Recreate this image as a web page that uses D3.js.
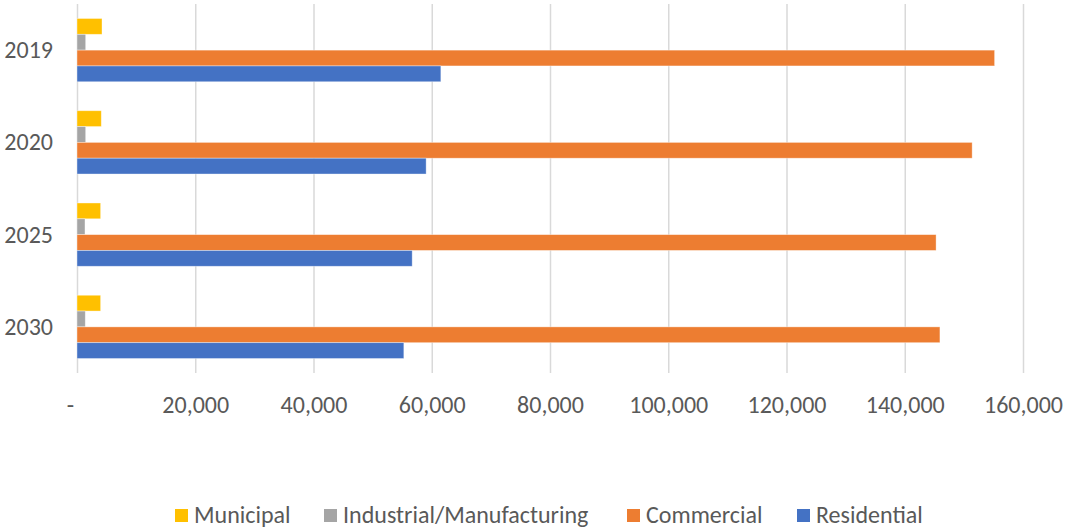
<!DOCTYPE html>
<html>
<head>
<meta charset="utf-8">
<script src="https://cdn.jsdelivr.net/npm/d3@7"></script>
<style>
  body { margin: 0; background: #fff; }
  text { font-family: Calibri, Carlito, 'Liberation Sans', Arial, sans-serif; fill: #595959; }
</style>
</head>
<body>
<svg id="chart" width="1065" height="529"></svg>
<script>
// data
const years = ['2019', '2020', '2025', '2030']
const seriesNames = ['Municipal', 'Industrial/Manufacturing', 'Commercial', 'Residential']
const municipal = [4230, 4110, 4000, 4000]
const industrial = [1470, 1470, 1350, 1400]
const commercial = [155200, 151400, 145300, 145950]
const residential = [61540, 59050, 56690, 55280]
const xTicks = [0, 20000, 40000, 60000, 80000, 100000, 120000, 140000, 160000]
const colors = ['#FFC000', '#A5A5A5', '#ED7D31', '#4472C4']

const values = [municipal, industrial, commercial, residential]
const rows = years.map((year, i) => {
  const row = { year: year }
  seriesNames.forEach((s, j) => { row[s] = values[j][i] })
  return row
})

const svg = d3.select('#chart')
const plotTop = 4
const plotBottom = 373

const x = d3.scaleLinear().domain([0, 160000]).range([77, 1023])
const y = d3.scaleBand().domain(years).range([plotTop, plotBottom]).paddingInner(0.314).paddingOuter(0.157)
const ySub = d3.scaleBand().domain(seriesNames).range([0, y.bandwidth()])
const color = d3.scaleOrdinal().domain(seriesNames).range(colors)

// gridlines
const grid = svg.append('g')
  .attr('transform', 'translate(0,' + plotBottom + ')')
  .call(d3.axisBottom(x).tickValues(xTicks).tickSize(-(plotBottom - plotTop)).tickFormat(''))
grid.select('.domain').remove()
grid.selectAll('.tick line').attr('stroke', '#D9D9D9').attr('stroke-width', 1.5)

// bars
svg.append('g')
  .selectAll('g')
  .data(rows)
  .join('g')
  .attr('transform', d => 'translate(0,' + y(d.year) + ')')
  .selectAll('rect')
  .data(d => seriesNames.map(s => ({ key: s, value: d[s] })))
  .join('rect')
  .attr('x', x(0))
  .attr('y', d => ySub(d.key))
  .attr('width', d => x(d.value) - x(0))
  .attr('height', ySub.bandwidth())
  .attr('fill', d => color(d.key))
  .attr('stroke', '#fff')
  .attr('stroke-opacity', 0.5)
  .attr('stroke-width', 0.75)

// x axis labels
const xAxis = svg.append('g')
  .attr('transform', 'translate(0,' + 413 + ')')
  .call(d3.axisBottom(x).tickValues(xTicks).tickSize(0).tickPadding(0)
    .tickFormat(d => d === 0 ? '-' : d3.format(',')(d)))
xAxis.select('.domain').remove()
xAxis.selectAll('text')
  .attr('y', 0).attr('dy', 0)
  .style('font-size', '24px')
  .attr('fill', '#595959')
  .attr('dx', d => d === 0 ? -7 : 0)

// y axis labels
const yAxis = svg.append('g')
  .attr('transform', 'translate(53,0)')
  .call(d3.axisLeft(y).tickSize(0).tickPadding(0))
yAxis.select('.domain').remove()
yAxis.selectAll('text')
  .style('font-size', '24px')
  .attr('fill', '#595959')
  .attr('dy', '0.33em')

// legend
const legendX = [175, 324, 627, 797]
const legend = svg.append('g')
  .selectAll('g')
  .data(seriesNames)
  .join('g')
  .attr('transform', (d, i) => 'translate(' + legendX[i] + ',509)')
legend.append('rect')
  .attr('width', 13).attr('height', 13)
  .attr('fill', d => color(d))
legend.append('text')
  .attr('x', 19).attr('y', 14)
  .style('font-size', '24px')
  .text(d => d)
</script>
</body>
</html>
